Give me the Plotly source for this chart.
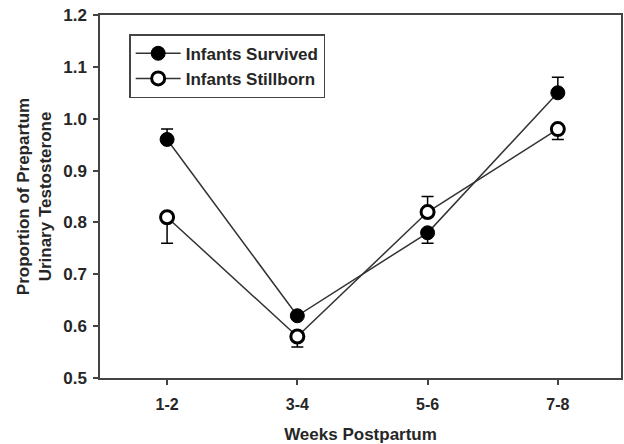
import plotly.graph_objects as go

weeks = ["1-2", "3-4", "5-6", "7-8"]
survived = [0.96, 0.62, 0.78, 1.05]
survived_err_plus = [0.02, 0.0, 0.0, 0.03]
survived_err_minus = [0.0, 0.0, 0.02, 0.0]
stillborn = [0.81, 0.58, 0.82, 0.98]
stillborn_err_plus = [0.0, 0.0, 0.03, 0.0]
stillborn_err_minus = [0.05, 0.02, 0.0, 0.02]

FONT = "Liberation Sans, Arial, sans-serif"
TXT = "#262626"

fig = go.Figure()
fig.add_trace(go.Scatter(
    x=weeks, y=survived, name="Infants Survived", mode="lines+markers",
    line=dict(color="#333333", width=1.5),
    marker=dict(symbol="circle", size=14, color="black", line=dict(color="black", width=1)),
    error_y=dict(type="data", symmetric=False, array=survived_err_plus,
                 arrayminus=survived_err_minus, color="black", thickness=1.5, width=6),
))
fig.add_trace(go.Scatter(
    x=weeks, y=stillborn, name="Infants Stillborn", mode="lines+markers",
    line=dict(color="#333333", width=1.5),
    marker=dict(symbol="circle", size=13, color="white", line=dict(color="black", width=3)),
    error_y=dict(type="data", symmetric=False, array=stillborn_err_plus,
                 arrayminus=stillborn_err_minus, color="black", thickness=1.5, width=6),
))

fig.update_layout(
    width=624, height=444,
    margin=dict(l=100, r=3, t=15, b=66),
    paper_bgcolor="white", plot_bgcolor="white",
    font=dict(family=FONT, color=TXT, size=16),
    showlegend=True,
    legend=dict(x=0.056, y=0.947, xanchor="left", yanchor="top",
                bordercolor="#444444", borderwidth=1.5, bgcolor="white",
                font=dict(family=FONT, size=17, color=TXT, weight="bold"),
                itemwidth=45, tracegroupgap=0),
)
fig.update_xaxes(
    type="category", range=[-0.515, 3.485], automargin=False,
    showline=True, linecolor="#444444", linewidth=1.5, mirror=True,
    ticks="outside", ticklen=5, tickwidth=1.5, tickcolor="#444444",
    ticklabelstandoff=6,
    showgrid=False, zeroline=False,
    tickfont=dict(family=FONT, size=16, color=TXT, weight="bold"),
    title=dict(text="<b>Weeks Postpartum</b>", font=dict(family=FONT, size=17, color=TXT), standoff=18),
)
fig.update_yaxes(
    range=[0.5, 1.2], dtick=0.1, tickformat=".1f", automargin=False,
    showline=True, linecolor="#444444", linewidth=1.5, mirror=True,
    ticks="outside", ticklen=5, tickwidth=1.5, tickcolor="#444444",
    ticklabelstandoff=3,
    showgrid=False, zeroline=False,
    tickfont=dict(family=FONT, size=17, color=TXT, weight="bold"),
    title=dict(text="<b>Proportion of Prepartum<br>Urinary Testosterone</b>",
               font=dict(family=FONT, size=17, color=TXT), standoff=7),
)

fig.write_html("out.html")
